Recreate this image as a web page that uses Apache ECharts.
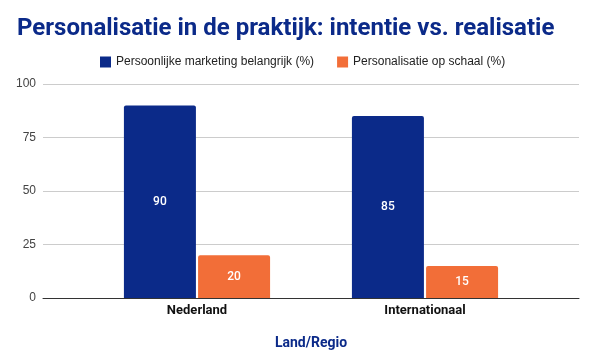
<!DOCTYPE html>
<html><head><meta charset="utf-8">
<script src="https://cdn.jsdelivr.net/npm/echarts@6/dist/echarts.min.js"></script>
<style>html,body{margin:0;padding:0;background:#fff}#c{width:595px;height:364px}</style>
</head><body><div id="c"></div>
<script>
var categories = ['Nederland', 'Internationaal'];
var seriesNames = ['Persoonlijke marketing belangrijk (%)', 'Personalisatie op schaal (%)'];
var marketing = [90, 85];
var schaal = [20, 15];
var yTicks = [0, 25, 50, 75, 100];
var colors = ['#0b2a89', '#f26e38'];

var chart = echarts.init(document.getElementById('c'), null, {renderer: 'canvas'});
var lbl = {show: true, position: 'inside', color: '#fff', fontSize: 12, fontFamily: 'Roboto', fontWeight: 500};
chart.setOption({
  animation: false,
  title: {
    text: 'Personalisatie in de praktijk: intentie vs. realisatie',
    left: 12, top: 12,
    textStyle: {fontFamily: 'Roboto', fontWeight: 'bold', fontSize: 24, color: '#0b2a89'}
  },
  legend: {
    top: 51, left: 95, itemWidth: 11, itemHeight: 11, itemGap: 23,
    icon: 'rect',
    textStyle: {fontFamily: 'Liberation Sans, Arial', fontSize: 12, color: '#222'},
    data: seriesNames
  },
  grid: [
    {left: 43, right: 16, top: 84, bottom: 66},
    {left: 83, right: 56, top: 84, bottom: 66}
  ],
  xAxis: [
    {gridIndex: 0, type: 'category', data: [''],
      axisLine: {show: true, lineStyle: {color: '#333', width: 1}},
      axisTick: {show: false}, axisLabel: {show: false},
      name: 'Land/Regio', nameLocation: 'middle', nameGap: 38,
      nameTextStyle: {fontFamily: 'Roboto', fontWeight: 'bold', fontSize: 14, color: '#0b2a89'}},
    {gridIndex: 1, type: 'category', data: categories,
      axisLine: {show: false}, axisTick: {show: false},
      axisLabel: {fontFamily: 'Roboto', fontWeight: 'bold', fontSize: 13, color: '#111', margin: 6}}
  ],
  yAxis: [
    {gridIndex: 0, type: 'value', min: 0, max: 100, interval: 25,
      axisLine: {show: false}, axisTick: {show: false},
      axisLabel: {fontFamily: 'Liberation Sans, Arial', fontSize: 12, color: '#444', margin: 7,
        formatter: function (v) { return yTicks.indexOf(v) >= 0 ? String(v) : ''; }},
      splitLine: {lineStyle: {color: '#cccccc'}}},
    {gridIndex: 1, type: 'value', min: 0, max: 100, show: false, splitLine: {show: false}}
  ],
  series: [
    {name: seriesNames[0], type: 'bar', xAxisIndex: 1, yAxisIndex: 1, data: marketing,
      barWidth: 72, barGap: '3%', itemStyle: {color: colors[0], borderRadius: [2, 2, 0, 0]}, label: lbl},
    {name: seriesNames[1], type: 'bar', xAxisIndex: 1, yAxisIndex: 1, data: schaal,
      barWidth: 72, barGap: '3%', itemStyle: {color: colors[1], borderRadius: [2, 2, 0, 0]}, label: lbl}
  ],
  color: colors
});
</script></body></html>
